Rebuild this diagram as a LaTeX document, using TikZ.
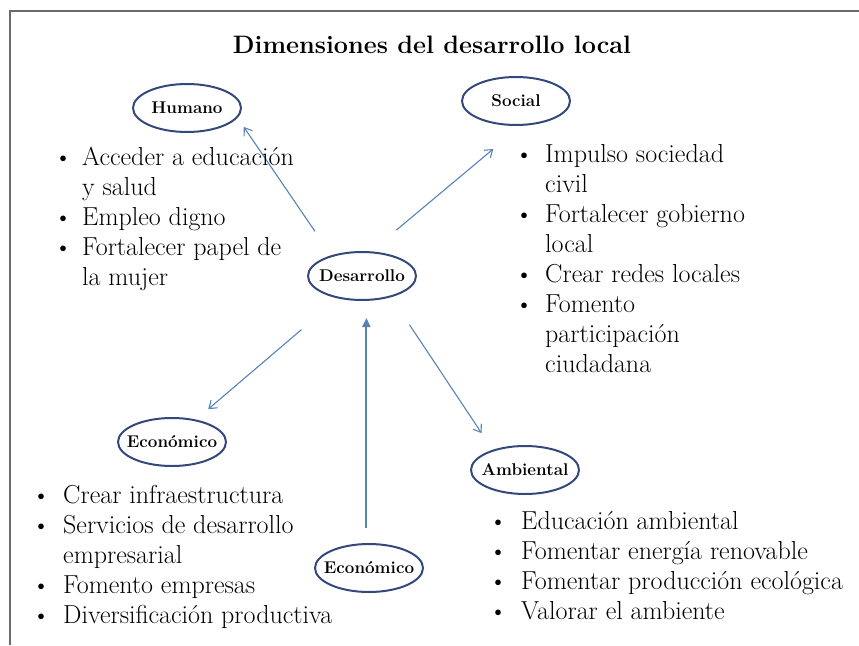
\documentclass[tikz,border=0pt]{standalone}
\usetikzlibrary{shapes.geometric,arrows.meta}
\definecolor{ellc}{HTML}{34497A}
\definecolor{arrc}{HTML}{5B82B5}
\definecolor{framec}{HTML}{6A6A6A}
\newcommand{\bul}{\raisebox{0pt}{\fontsize{25}{25}\selectfont\textbullet}}
\begin{document}
\begin{tikzpicture}[x=1pt,y=-1pt,
  dim/.style={ellipse, draw=ellc, line width=2pt, inner sep=0pt,
    minimum width=108pt, minimum height=48pt,
    font=\fontsize{17}{17}\selectfont\bfseries},
  arr/.style={draw=arrc, line width=1.1pt, -{Straight Barb[length=7pt,width=10pt]}},
  uparr/.style={draw=arrc, line width=2pt, -{Triangle[length=9pt,width=8pt]}},
  blist/.style={anchor=base west, inner sep=0pt, font=\fontsize{26}{30}\selectfont},
  ttl/.style={font=\fontsize{25.2}{27}\selectfont\bfseries}
]
\useasboundingbox (0,0) rectangle (859,645);
\draw[framec, line width=2.2pt] (859,11) -- (10,11) -- (10,645);

\node[ttl] (title) at (432,45) {Dimensiones del desarrollo local};

\node[dim] (hum) at (187,108) {\makebox[40pt]{Humano}};
\node[dim] (soc) at (516,101) {\makebox[40pt]{Social}};
\node[dim] (des) at (362,276) {\makebox[40pt]{Desarrollo}};
\node[dim] (eco) at (172,442) {\makebox[40pt]{Económico}};
\node[dim] (amb) at (525,470) {\makebox[40pt]{Ambiental}};
\node[dim] (eco2) at (369,568) {\makebox[40pt]{Económico}};

\draw[arr, shorten <=29pt, shorten >=11pt] (des.146) -- (hum.-11);
\draw[arr, shorten <=33pt, shorten >=36pt] (des.70) -- (soc.-79);
\draw[arr, shorten <=48pt, shorten >=16pt] (des.223) -- (eco.43);
\draw[arr, shorten <=33pt, shorten >=20pt] (des.-36) -- (amb.148);
\draw[uparr, shorten <=15pt, shorten >=17pt] (eco2.96) -- (eco2.96 |- des.south);

\node[blist] (lhum) at (54,165) {\begin{tabular}[t]{@{}p{28pt}@{}l@{}}
\bul & Acceder a educación\\
 & y salud\\
\bul & Empleo digno\\
\bul & Fortalecer papel de\\
 & la mujer
\end{tabular}};

\node[blist] (lsoc) at (515,162) {\begin{tabular}[t]{@{}p{30pt}@{}l@{}}
\bul & Impulso sociedad\\
 & civil\\
\bul & Fortalecer gobierno\\
 & local\\
\bul & Crear redes locales\\
\bul & Fomento\\
 & participación\\
 & ciudadana
\end{tabular}};

\node[blist] (leco) at (32,503) {\begin{tabular}[t]{@{}p{31pt}@{}l@{}}
\bul & Crear infraestructura\\
\bul & Servicios de desarrollo\\
 & empresarial\\
\bul & Fomento empresas\\
\bul & Diversificación productiva
\end{tabular}};

\node[blist] (lamb) at (489,529) {\begin{tabular}[t]{@{}p{32pt}@{}l@{}}
\bul & Educación ambiental\\
\bul & Fomentar energía renovable\\
\bul & Fomentar producción ecológica\\
\bul & Valorar el ambiente
\end{tabular}};
\end{tikzpicture}
\end{document}
